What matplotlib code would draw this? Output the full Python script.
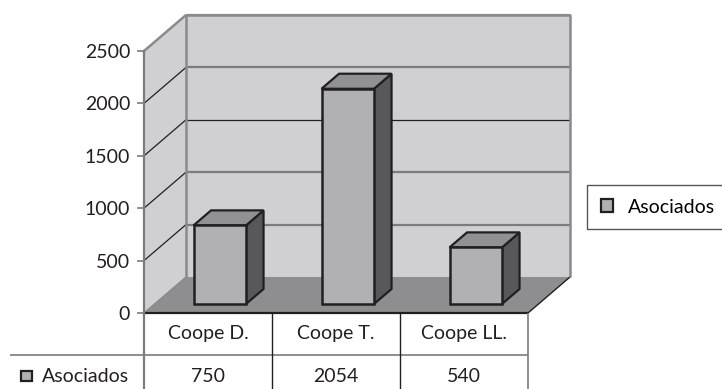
import matplotlib as mpl
mpl.use('agg')
import matplotlib.pyplot as plt
from matplotlib.patches import Polygon, Rectangle, Patch

categories = ['Coope D.', 'Coope T.', 'Coope LL.']
asociados = [750, 2054, 540]
series_name = 'Asociados'
yticks = [0, 500, 1000, 1500, 2000, 2500]

plt.rcParams['font.family'] = ['Lato', 'DejaVu Sans']
INK = '#231f20'
WALL = '#d0d0d2'
FLOOR = '#8e8e90'
EDGE = '#8a8a8c'
FRONT = '#b1b1b3'
SIDE = '#58585a'
TOP = '#919193'
FS = 14

W, H = 722, 389
fig = plt.figure(figsize=(W / 100, H / 100), dpi=100)
ax = fig.add_axes([144 / W, 1 - 313 / H, 384 / W, 262 / H])
ymax = yticks[-1]
n = len(categories)
ax.set_xlim(0, n)
ax.set_ylim(0, ymax)
ax.patch.set_visible(False)

py = ymax / 262.0          # value units per pixel
px = 1 / 128.0             # category units per pixel
DX, DY = 42 * px, 36 * py  # depth of the box

def poly(pts, fc, ec='none', lw=0, z=1):
    ax.add_patch(Polygon(pts, closed=True, facecolor=fc, edgecolor=ec,
                         linewidth=lw, zorder=z, clip_on=False, joinstyle='miter'))

def line(xs, ys, c, lw=1, z=2):
    ax.plot(xs, ys, color=c, lw=lw, zorder=z, clip_on=False, solid_capstyle='butt')

# walls and floor
poly([(DX, DY), (n + DX, DY), (n + DX, ymax + DY), (DX, ymax + DY)], WALL, z=1)
poly([(0, 0), (DX, DY), (DX, ymax + DY), (0, ymax)], WALL, z=1)
poly([(0, 0), (n, 0), (n + DX, DY), (DX, DY)], FLOOR, z=1.5)

for v in yticks[1:]:
    c = INK if v == 1500 else '#7c7c7e'
    if v == ymax:
        c = EDGE
    lw = 0.9 if v == 1500 else 1.6
    line([DX, n + DX], [v + DY, v + DY], c, lw, z=1.2)
    line([0, DX], [v, v + DY], INK if v < ymax else EDGE, 0.9 if v < ymax else 1.8, z=1.2)

line([DX, DX], [DY, ymax + DY], EDGE, 1.8, z=1.3)
line([DX, n + DX, n + DX], [ymax + DY, ymax + DY, DY], EDGE, 1.8, z=1.3)
line([n, n + DX], [0, DY], INK, 1.0, z=1.6)
line([0, DX], [0, DY], EDGE, 1.0, z=1.6)

# bars
bw, d0, d1 = 0.41, 0.25, 0.667
bd = d1 - d0
for i, v in enumerate(asociados):
    x0 = i + 0.51 - bw / 2 + d0 * DX
    y0 = d0 * DY
    poly([(x0 + bw, y0), (x0 + bw + bd * DX, y0 + bd * DY),
          (x0 + bw + bd * DX, y0 + v + bd * DY), (x0 + bw, y0 + v)], SIDE, INK, 1.6, z=3)
    poly([(x0, y0 + v), (x0 + bw, y0 + v), (x0 + bw + bd * DX, y0 + v + bd * DY),
          (x0 + bd * DX, y0 + v + bd * DY)], TOP, INK, 1.6, z=3)
    ax.add_patch(Rectangle((x0, y0), bw, v, facecolor=FRONT, edgecolor=INK,
                           linewidth=1.8, zorder=4, clip_on=False, joinstyle='miter'))

# axis
for s in ['top', 'right', 'bottom']:
    ax.spines[s].set_visible(False)
ax.spines['left'].set_color('#7c7c7e')
ax.spines['left'].set_linewidth(1.6)
ax.spines['left'].set_zorder(5)
ax.set_xticks([])
ax.set_yticks(yticks)
ax.tick_params(axis='y', length=5, width=1.2, color='#7c7c7e', pad=5,
               labelsize=FS, labelcolor=INK)

# data table
r1, r2 = 42 * py, 80 * py
line([0, n], [0, 0], INK, 1.6, z=5)
line([-134 * px, n], [-r1, -r1], '#7c7c7e', 1.2, z=5)
line([0, 0], [0, -r2], '#7c7c7e', 1.6, z=5)
line([n, n], [0, -r2], '#7c7c7e', 1.2, z=5)
for k in range(1, n):
    line([k, k], [0, -r2], INK, 1.0, z=5)
for i, (cat, v) in enumerate(zip(categories, asociados)):
    ax.text(i + 0.5, -21 * py, cat, ha='center', va='center', fontsize=FS,
            color=INK, clip_on=False)
    ax.text(i + 0.5, -64 * py, str(v), ha='center', va='center', fontsize=FS,
            color=INK, clip_on=False)
ax.add_patch(Rectangle((-123 * px, -68 * py), 11 * px, 10 * py, facecolor=FRONT,
                       edgecolor=INK, linewidth=1.6, clip_on=False, zorder=5))
ax.text(-102 * px, -64 * py, series_name, ha='left', va='center', fontsize=FS,
        color=INK, clip_on=False)

# legend
leg = fig.legend(handles=[Patch(facecolor=FRONT, edgecolor=INK, linewidth=1.6,
                                label=series_name)],
                 loc='center left', bbox_to_anchor=(587 / W, 1 - 207 / H),
                 bbox_transform=fig.transFigure, fontsize=FS, fancybox=False,
                 framealpha=1, edgecolor='#555557', borderpad=0.7,
                 handlelength=0.65, handleheight=0.65, handletextpad=0.75,
                 borderaxespad=0)
leg.get_frame().set_linewidth(1.0)

fig.savefig('out.png', dpi=100)
